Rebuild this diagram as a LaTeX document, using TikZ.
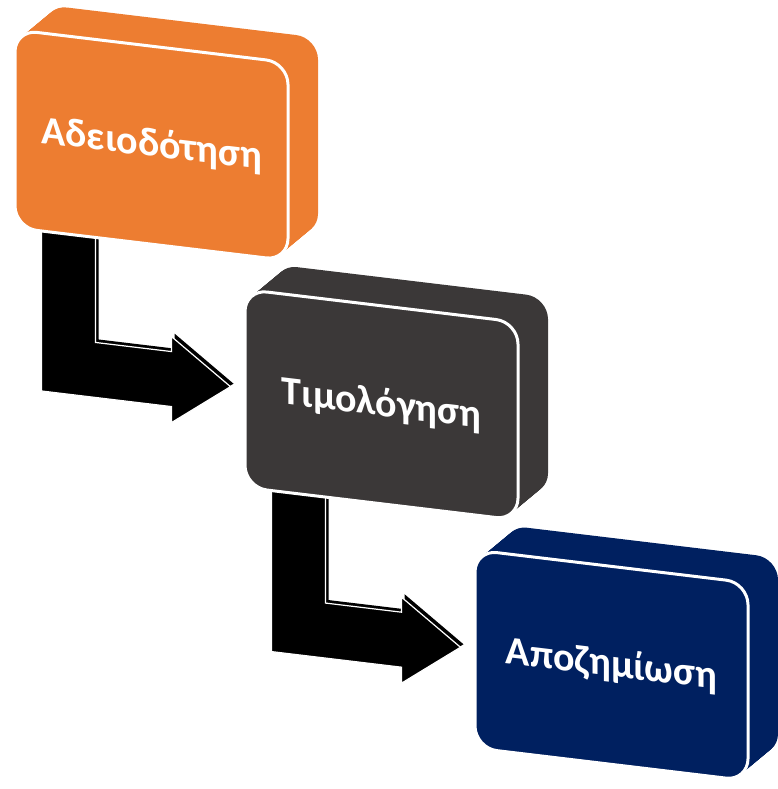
\documentclass[tikz,border=0pt]{standalone}
\usepackage{fontspec}
\setmainfont{Carlito}
\usetikzlibrary{calc,backgrounds}

\definecolor{stageorange}{HTML}{ED7D31}
\definecolor{stagegray}{HTML}{3B3838}
\definecolor{stagenavy}{HTML}{002060}

\newcommand{\bentpath}[2]{($(#1.south west)+(28,-26)$) -- ($(#1.south west)+(82,-26)$) -- ($(#2.west)+(-148,-28)$) -- ($(#2.west)+(-72,-28)$) -- ($(#2.west)+(-72,-43)$) -- ($(#2.west)+(-13,0)$) -- ($(#2.west)+(-72,43)$) -- ($(#2.west)+(-72,27)$) -- ($(#2.west)+(-202,27)$) -- cycle}

\tikzset{
	stage/.style={rounded corners=22pt, minimum width=273pt, minimum height=198pt, inner sep=0pt, draw=white, line width=3pt, text=white, font=\bfseries\fontsize{40}{42}\selectfont, transform shape},
	bentarrow/.style={fill=black, draw=white, line width=1.2pt},
}

\begin{document}
\begin{tikzpicture}[x=1pt,y=-1pt]
	\useasboundingbox (0,0) rectangle (777,789);
	\begin{scope}[yslant=-0.12]
	\foreach \cx/\cy/\col in {15/28/stageorange, 245/260/stagegray, 475/493/stagenavy}
		\foreach \k in {30,29,...,1}
			\fill[\col, rounded corners=22pt] (\cx+\k, \cy-0.95*\k) rectangle ++(273,198);

	\node[stage, fill=stageorange] (adeia) at (151.5,127) {Αδειοδότηση};
	\node[stage, fill=stagegray] (timol) at (381.5,359) {Τιμολόγηση};
	\node[stage, fill=stagenavy] (apoz) at (611.5,592) {Αποζημίωση};

	\begin{scope}[on background layer]
	\foreach \a/\b in {adeia/timol, timol/apoz} {
		\fill[black, transform canvas={shift={(3pt,3pt)}}] \bentpath{\a}{\b};
		\draw[bentarrow] \bentpath{\a}{\b};
	}
	\end{scope}
	\end{scope}
\end{tikzpicture}
\end{document}
